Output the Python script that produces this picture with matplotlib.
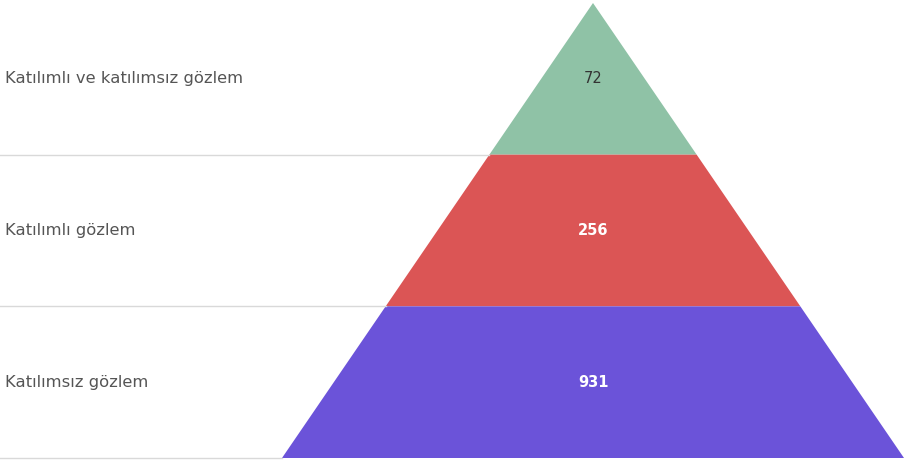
import matplotlib.pyplot as plt
from matplotlib.patches import Polygon

# data, top to bottom
categories = ["Katılımlı ve katılımsız gözlem", "Katılımlı gözlem", "Katılımsız gözlem"]
values = [72, 256, 931]
colors = ["#8fc2a6", "#db5555", "#6b53d9"]
value_colors = ["#333333", "white", "white"]

W, H = 905, 462
apex_x, apex_y = 593, 3
base_y = 458
half_base = 311

fig = plt.figure(figsize=(W / 100, H / 100), dpi=100)
ax = fig.add_axes([0, 0, 1, 1])
ax.set_xlim(0, W)
ax.set_ylim(H, 0)
ax.axis("off")

n = len(categories)
band = (base_y - apex_y) / n

def half_width(y):
    return half_base * (y - apex_y) / (base_y - apex_y)

for i, (cat, val, col, vcol) in enumerate(zip(categories, values, colors, value_colors)):
    y0 = apex_y + i * band
    y1 = y0 + band
    w0, w1 = half_width(y0), half_width(y1)
    pts = [(apex_x - w0, y0), (apex_x + w0, y0), (apex_x + w1, y1), (apex_x - w1, y1)]
    ax.add_patch(Polygon(pts, closed=True, facecolor=col, edgecolor="none"))
    # separator line under the band
    ax.plot([0, apex_x - w1], [y1, y1], color="#d9d9d9", lw=1)
    ym = (y0 + y1) / 2
    ax.text(5, ym, cat, ha="left", va="center", fontsize=11.8, color="#555555",
            family="DejaVu Sans")
    ax.text(apex_x, ym, str(val), ha="center", va="center", fontsize=10.5,
            color=vcol, fontweight="bold" if vcol == "white" else "normal",
            family="DejaVu Sans")

fig.savefig("out.png", dpi=100)
